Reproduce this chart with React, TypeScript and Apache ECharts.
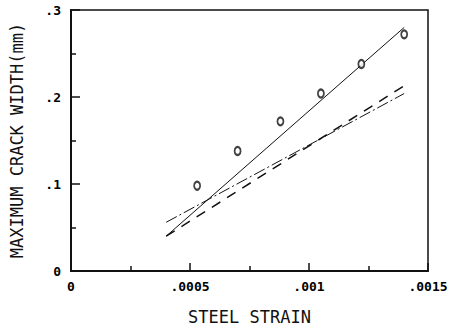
import React, { useEffect, useRef } from "react";
import * as echarts from "echarts";

const strain = [0.00053, 0.0007, 0.00088, 0.00105, 0.00122, 0.0014];
const crackWidth = [0.098, 0.138, 0.172, 0.204, 0.238, 0.272];

const fitStrain = [0.0004, 0.0014];
const solidFit = [0.04, 0.28];
const dashedFit = [0.04, 0.213];
const dashDotFit = [0.056, 0.204];

const xTickValues = [0, 0.0005, 0.001, 0.0015];
const xTickLabels = ["0", ".0005", ".001", ".0015"];
const yTickValues = [0, 0.1, 0.2, 0.3];
const yTickLabels = ["0", ".1", ".2", ".3"];

const INK = "#111";
const FONT = "'DejaVu Sans Mono', 'Liberation Mono', monospace";

function lookup(values: number[], labels: string[], v: number): string {
  for (let i = 0; i < values.length; i++) {
    if (Math.abs(values[i] - v) < 1e-9) return labels[i];
  }
  return "";
}

function pairs(xs: number[], ys: number[]) {
  return xs.map((x, i) => [x, ys[i]]);
}

export default function App() {
  const ref = useRef<HTMLDivElement>(null);
  useEffect(() => {
    if (!ref.current) return;
    const chart = echarts.init(ref.current, undefined, { renderer: "svg" });
    chart.setOption({
      animation: false,
      backgroundColor: "#fff",
      grid: {
        left: 70,
        right: 25,
        top: 10,
        bottom: 50,
        show: true,
        borderColor: INK,
        borderWidth: 1.5,
        backgroundColor: "transparent",
      },
      xAxis: {
        type: "value",
        min: 0,
        max: 0.0015,
        interval: 0.0005,
        name: "STEEL STRAIN",
        nameLocation: "middle",
        nameGap: 37,
        nameTextStyle: { fontFamily: FONT, fontSize: 17, color: INK },
        axisLine: { show: true, onZero: false, lineStyle: { color: INK, width: 2 } },
        axisTick: { show: true, inside: true, length: 8, lineStyle: { color: INK, width: 1.5 } },
        minorTick: { show: true, splitNumber: 2, length: 5, lineStyle: { color: INK, width: 1.5 } },
        splitLine: { show: false },
        minorSplitLine: { show: false },
        axisLabel: {
          margin: 9,
          fontFamily: FONT,
          fontSize: 13,
          fontWeight: "bold",
          color: "#000",
          formatter: (v: number) => lookup(xTickValues, xTickLabels, v),
        },
      },
      yAxis: {
        type: "value",
        min: 0,
        max: 0.3,
        interval: 0.1,
        name: "MAXIMUM CRACK WIDTH(mm)",
        nameLocation: "middle",
        nameGap: 46,
        nameTextStyle: { fontFamily: FONT, fontSize: 17, color: INK },
        axisLine: { show: true, onZero: false, lineStyle: { color: INK, width: 2 } },
        axisTick: { show: true, inside: true, length: 9, lineStyle: { color: INK, width: 1.5 } },
        minorTick: { show: true, splitNumber: 2, length: 5, lineStyle: { color: INK, width: 1.5 } },
        splitLine: { show: false },
        minorSplitLine: { show: false },
        axisLabel: {
          margin: 10,
          fontFamily: FONT,
          fontSize: 13,
          fontWeight: "bold",
          color: "#000",
          formatter: (v: number) => lookup(yTickValues, yTickLabels, v),
        },
      },
      series: [
        {
          type: "line",
          data: pairs(fitStrain, solidFit),
          showSymbol: false,
          lineStyle: { color: INK, width: 1, type: "solid" },
        },
        {
          type: "line",
          data: pairs(fitStrain, dashedFit),
          showSymbol: false,
          lineStyle: { color: INK, width: 1.5, type: [10, 8] },
        },
        {
          type: "line",
          data: pairs(fitStrain, dashDotFit),
          showSymbol: false,
          lineStyle: { color: INK, width: 1, type: [12, 3, 2, 3] },
        },
        {
          type: "scatter",
          data: pairs(strain, crackWidth),
          symbol: "emptyCircle",
          symbolSize: [6, 8],
          z: 5,
          itemStyle: { color: INK, borderColor: INK, borderWidth: 1.5 },
        },
      ],
    });
    return () => chart.dispose();
  }, []);
  return <div ref={ref} style={{ width: 453, height: 330, position: "absolute", left: 0, top: 0 }} />;
}
